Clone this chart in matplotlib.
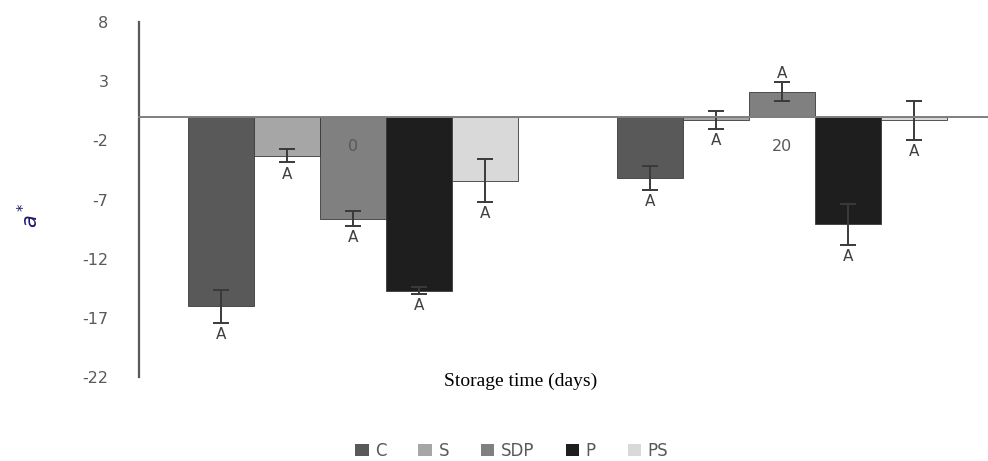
import matplotlib.pyplot as plt
import numpy as np
from matplotlib.patches import Patch

plt.rcParams['axes.unicode_minus'] = False

# storage days and treatments
days = ['0', '20']
treatments = ['C', 'S', 'SDP', 'P', 'PS']
colors = ['#595959', '#a6a6a6', '#808080', '#1e1e1e', '#d9d9d9']

# a* means and standard deviations, one list per treatment (day 0, day 20)
means = {
    'C': [-16.0, -5.2],
    'S': [-3.3, -0.3],
    'SDP': [-8.6, 2.1],
    'P': [-14.7, -9.1],
    'PS': [-5.4, -0.3],
}
errors = {
    'C': [1.4, 1.0],
    'S': [0.55, 0.75],
    'SDP': [0.6, 0.8],
    'P': [0.3, 1.7],
    'PS': [1.8, 1.65],
}
letters = {
    'C': ['A', 'A'],
    'S': ['A', 'A'],
    'SDP': ['A', 'A'],
    'P': ['A', 'A'],
    'PS': ['A', 'A'],
}

fig = plt.figure(figsize=(9.88, 4.61), dpi=100)
ax = fig.add_axes([0.1407, 0.182, 0.859, 0.770])

x = np.arange(len(days))
width = 0.154
for i, t in enumerate(treatments):
    pos = x + (i - 2) * width
    ax.bar(pos, means[t], width, color=colors[i], edgecolor='#3a3a3a',
           linewidth=0.6, zorder=2, label=t)
    ax.errorbar(pos, means[t], yerr=errors[t], fmt='none', ecolor='#3a3a3a',
                elinewidth=1.4, capsize=6, capthick=1.4, zorder=3)
    for p, m, e, s in zip(pos, means[t], errors[t], letters[t]):
        if m >= 0:
            ax.annotate(s, (p, m + e), xytext=(0, 1), textcoords='offset points',
                        ha='center', va='bottom', fontsize=11, color='#404040')
        else:
            ax.annotate(s, (p, m - e), xytext=(0, -3), textcoords='offset points',
                        ha='center', va='top', fontsize=11, color='#404040')

ax.set_xlim(-0.5, 1.48)
ax.set_ylim(-22, 8)
ax.set_yticks(np.arange(-22, 9, 5))
ax.set_xticks(x)
ax.set_xticklabels(days)
ax.set_axisbelow(False)

ax.spines['top'].set_visible(False)
ax.spines['right'].set_visible(False)
ax.spines['bottom'].set_position(('data', 0))
ax.spines['bottom'].set_color('#7f7f7f')
ax.spines['bottom'].set_linewidth(1.4)
ax.spines['bottom'].set_zorder(4)
ax.spines['left'].set_color('#595959')
ax.spines['left'].set_linewidth(1.6)
ax.tick_params(axis='both', length=0, labelsize=11.5, labelcolor='#595959')
ax.tick_params(axis='y', pad=22)
ax.tick_params(axis='x', pad=16)

fig.text(0.527, 0.173, 'Storage time (days)', ha='center', va='center',
         fontsize=14, family='Liberation Serif')
fig.text(0.03, 0.534, '$a^*$', ha='center', va='center', rotation=90,
         fontsize=15, color='#1a1a6e')

handles = [Patch(facecolor=c, label=t) for c, t in zip(colors, treatments)]
leg = fig.legend(handles=handles, loc='center', bbox_to_anchor=(0.518, 0.022),
                 ncol=5, frameon=False, fontsize=12, handlelength=0.8,
                 handleheight=0.8, handletextpad=0.4, columnspacing=1.9)
for txt in leg.get_texts():
    txt.set_color('#595959')

fig.savefig('out.png', dpi=100)
